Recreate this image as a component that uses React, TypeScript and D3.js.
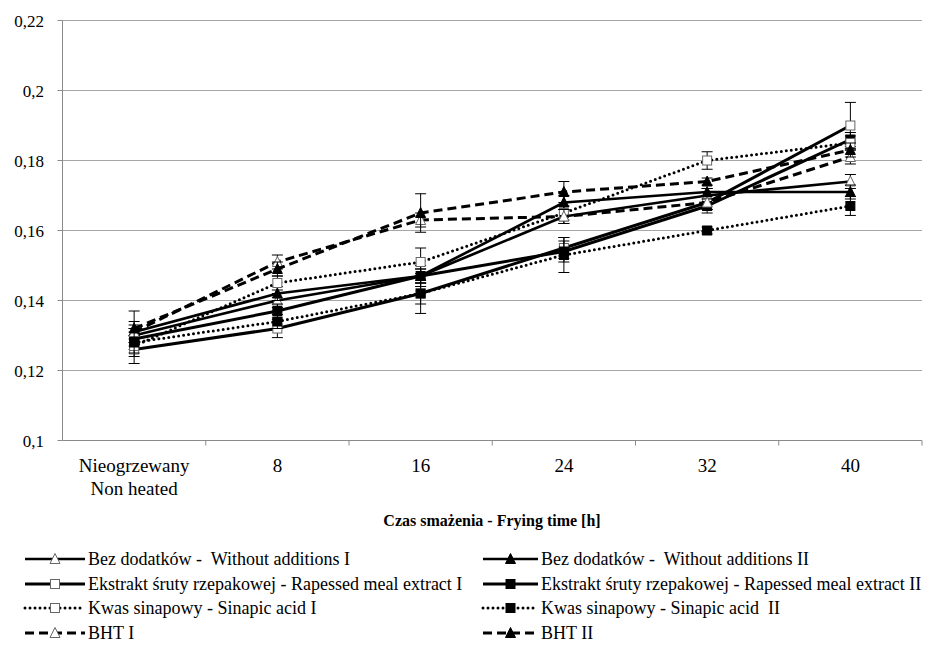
import React from "react";
import * as d3 from "d3";

const categories = ["Nieogrzewany|Non heated", "8", "16", "24", "32", "40"];
const yTicks = [0.1, 0.12, 0.14, 0.16, 0.18, 0.2, 0.22];

const seriesNames = [
  "Bez dodatków -  Without additions I",
  "Bez dodatków -  Without additions II",
  "Ekstrakt śruty rzepakowej - Rapessed meal extract I",
  "Ekstrakt śruty rzepakowej - Rapessed meal extract II",
  "Kwas sinapowy - Sinapic acid I",
  "Kwas sinapowy - Sinapic acid  II",
  "BHT I",
  "BHT II",
];

const bez1 = [0.130, 0.140, 0.147, 0.164, 0.170, 0.174];
const bez2 = [0.131, 0.142, 0.147, 0.168, 0.171, 0.171];
const ext1 = [0.126, 0.132, 0.142, 0.155, 0.168, 0.190];
const ext2 = [0.129, 0.137, 0.147, 0.154, 0.167, 0.186];
const kw1 = [0.127, 0.145, 0.151, 0.165, 0.180, 0.185];
const kw2 = [0.128, 0.134, 0.142, 0.153, 0.160, 0.167];
const bht1 = [0.131, 0.151, 0.163, 0.164, 0.168, 0.181];
const bht2 = [0.132, 0.149, 0.165, 0.171, 0.174, 0.183];

const bez1Err = [0.002, 0.002, 0.002, 0.002, 0.002, 0.002];
const bez2Err = [0.002, 0.002, 0.002, 0.002, 0.001, 0.002];
const ext1Err = [0.004, 0.0026, 0.0057, 0.003, 0.002, 0.0066];
const ext2Err = [0.003, 0.002, 0.003, 0.003, 0.002, 0.002];
const kw1Err = [0.003, 0.002, 0.004, 0.002, 0.0025, 0.002];
const kw2Err = [0.003, 0.002, 0.003, 0.005, 0.001, 0.0027];
const bht1Err = [0.003, 0.002, 0.002, 0.002, 0.002, 0.002];
const bht2Err = [0.005, 0.002, 0.0055, 0.003, 0.001, 0.002];

type Style = { dash: string; width: number; cap: "butt" | "round"; marker: "tri" | "sq"; filled: boolean };

const styles: Style[] = [
  { dash: "", width: 2.7, cap: "butt", marker: "tri", filled: false },
  { dash: "", width: 2.7, cap: "butt", marker: "tri", filled: true },
  { dash: "", width: 3, cap: "butt", marker: "sq", filled: false },
  { dash: "", width: 3, cap: "butt", marker: "sq", filled: true },
  { dash: "0 5", width: 3, cap: "round", marker: "sq", filled: false },
  { dash: "0 5", width: 3, cap: "round", marker: "sq", filled: true },
  { dash: "9 5", width: 3, cap: "butt", marker: "tri", filled: false },
  { dash: "9 5", width: 3, cap: "butt", marker: "tri", filled: true },
];

const values = [bez1, bez2, ext1, ext2, kw1, kw2, bht1, bht2];
const errors = [bez1Err, bez2Err, ext1Err, ext2Err, kw1Err, kw2Err, bht1Err, bht2Err];

const W = 935;
const H = 667;
const left = 62.5;
const right = 922;
const top = 20.5;
const bottom = 440.5;
const fontStyle = { fontFamily: '"Liberation Serif", "Times New Roman", Times, "DejaVu Serif", serif' };

function Marker({ x, y, s }: { x: number; y: number; s: Style }) {
  const fill = s.filled ? "#000" : "#fff";
  const stroke = s.filled ? "#000" : "#666";
  if (s.marker === "tri") {
    const h = 9;
    const p = `${x},${y - h / 2 - 1} ${x + 5},${y + h / 2} ${x - 5},${y + h / 2}`;
    return <polygon points={p} fill={fill} stroke={stroke} strokeWidth={1} />;
  }
  return <rect x={x - 4.5} y={y - 4.5} width={9} height={9} fill={fill} stroke={stroke} strokeWidth={1} />;
}

export default function App() {
  const x = d3.scaleBand<string>().domain(categories).range([left, right]);
  const y = d3.scaleLinear().domain([0.1, 0.22]).range([bottom, top]);
  const cx = (c: string) => (x(c) as number) + x.bandwidth() / 2;
  const line = d3
    .line<number>()
    .x((_, i) => cx(categories[i]))
    .y((d) => y(d));
  const fmt = (v: number) => String(+v.toFixed(2)).replace(".", ",");

  const legendRows = [559, 584, 608, 633];

  return (
    <svg width={W} height={H} style={{ position: "absolute", left: 0, top: 0, background: "#fff" }}>
      <rect x={0} y={0} width={W} height={H} fill="#fff" />
      {yTicks.map((t) => (
        <g key={t}>
          <line x1={left} x2={right} y1={y(t)} y2={y(t)} stroke={t === 0.1 ? "#8a8a8a" : "#a6a6a6"} strokeWidth={1} />
          <line x1={left - 5} x2={left} y1={y(t)} y2={y(t)} stroke="#8a8a8a" />
          <text x={44} y={y(t) + 6} textAnchor="end" style={fontStyle} fontSize={17} fill="#000">
            {fmt(t)}
          </text>
        </g>
      ))}
      <line x1={left} x2={left} y1={top} y2={bottom} stroke="#8a8a8a" />
      {categories.map((c, i) => (
        <line key={"t" + i} x1={(x(c) as number) + x.bandwidth()} x2={(x(c) as number) + x.bandwidth()} y1={bottom} y2={bottom + 5} stroke="#8a8a8a" />
      ))}
      {categories.map((c, i) => {
        const parts = c.split("|");
        return (
          <text key={"l" + i} x={cx(c)} textAnchor="middle" style={fontStyle} fontSize={19} fill="#000">
            {parts.map((p, j) => (
              <tspan key={j} x={cx(c)} y={472 + j * 23}>
                {p}
              </tspan>
            ))}
          </text>
        );
      })}
      <text x={492} y={526} textAnchor="middle" style={fontStyle} fontSize={16} fontWeight="bold" fill="#000">
        Czas smażenia - Frying time [h]
      </text>

      {values.map((vals, si) => {
        const s = styles[si];
        return (
          <g key={"s" + si}>
            <path
              d={line(vals) || ""}
              fill="none"
              stroke="#000"
              strokeWidth={s.width}
              strokeDasharray={s.dash || undefined}
              strokeLinecap={s.cap}
              strokeLinejoin="round"
            />
            {vals.map((v, i) => {
              const e = errors[si][i];
              const px = cx(categories[i]);
              return (
                <g key={i}>
                  <line x1={px} x2={px} y1={y(v + e)} y2={y(v - e)} stroke="#000" strokeWidth={1} />
                  <line x1={px - 5.5} x2={px + 5.5} y1={y(v + e)} y2={y(v + e)} stroke="#000" strokeWidth={1} />
                  <line x1={px - 5.5} x2={px + 5.5} y1={y(v - e)} y2={y(v - e)} stroke="#000" strokeWidth={1} />
                  <Marker x={px} y={y(v)} s={s} />
                </g>
              );
            })}
          </g>
        );
      })}

      {seriesNames.map((name, si) => {
        const s = styles[si];
        const col = si % 2;
        const row = Math.floor(si / 2);
        const x0 = col === 0 ? 25 : 483;
        const x1 = col === 0 ? 85 : 538;
        const ly = legendRows[row];
        return (
          <g key={"lg" + si}>
            <line
              x1={x0}
              x2={x1}
              y1={ly}
              y2={ly}
              stroke="#000"
              strokeWidth={s.width}
              strokeDasharray={s.dash || undefined}
              strokeLinecap={s.cap}
            />
            <Marker x={(x0 + x1) / 2} y={ly} s={s} />
            <text x={x1 + 3} y={ly + 6} style={{ ...fontStyle, whiteSpace: "pre" }} fontSize={18} fill="#000">
              {name}
            </text>
          </g>
        );
      })}
    </svg>
  );
}
